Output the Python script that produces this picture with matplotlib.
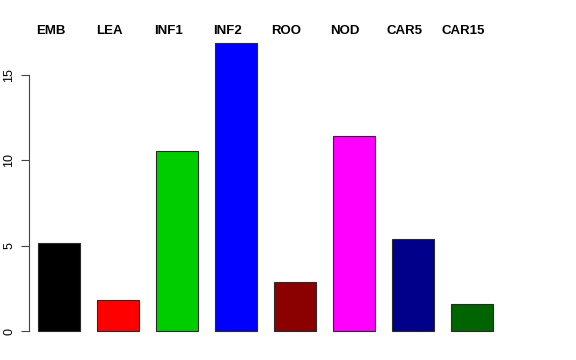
import matplotlib
matplotlib.use("Agg")
import matplotlib.pyplot as plt
from matplotlib.transforms import blended_transform_factory

plt.rcParams['font.family'] = ['Liberation Sans', 'DejaVu Sans']

labels = ['EMB', 'LEA', 'INF1', 'INF2', 'ROO', 'NOD', 'CAR5', 'CAR15']
values = [5.15, 1.81, 10.55, 16.85, 2.87, 11.38, 5.38, 1.58]
colors = ['#000000', '#FF0000', '#00CD00', '#0000FF', '#8B0000', '#FF00FF', '#00008B', '#006400']
yticks = [0, 5, 10, 15]

W, H = 576, 360
fig = plt.figure(figsize=(W / 100, H / 100), dpi=100)
# plot region in pixels: left 29, right 560, top 32, bottom 343
ax = fig.add_axes([29 / W, (H - 343) / H, (560 - 29) / W, (343 - 32) / H])

# R barplot style: width 1, space 0.4
pos = [0.9 + 1.4 * i for i in range(len(values))]
ax.bar(pos, values, width=1.0, color=colors, edgecolor='#2a2a2a', linewidth=0.8)

ax.set_xlim(0.188, 12.8)
ax.set_ylim(-0.7, 17.49)

for s in ['top', 'right', 'bottom']:
    ax.spines[s].set_visible(False)
ax.spines['left'].set_bounds(0, 15)
ax.spines['left'].set_color('#444444')
ax.set_xticks([])
ax.set_yticks(yticks)
ax.set_yticklabels([str(t) for t in yticks], rotation=90, va='center', fontsize=9)
ax.tick_params(axis='y', length=6, width=0.8, color='#444444', pad=4)

# category labels across the top, slightly left of each bar
trans = blended_transform_factory(ax.transData, fig.transFigure)
for p, lab in zip(pos, labels):
    ax.text(p - 0.2, 1 - 31.5 / H, lab, transform=trans, ha='center', va='center',
            fontsize=9.5, fontweight='bold', clip_on=False)

fig.savefig("out.png", dpi=100)
